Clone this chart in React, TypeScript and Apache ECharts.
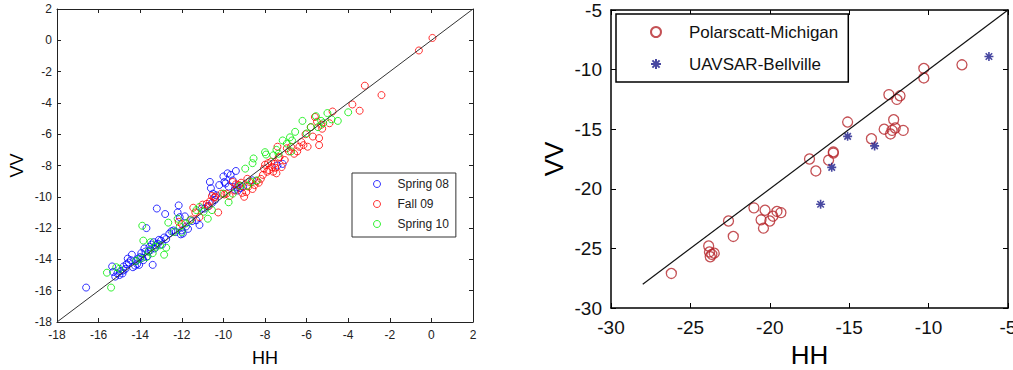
import React, { useEffect, useRef } from "react";
import * as echarts from "echarts";

// ---------- Left panel data (HH, VV) ----------
const spring08: number[][] = [
  [-16.6, -15.8], [-15.35, -14.45], [-15.3, -14.8], [-15.2, -15.1], [-15.1, -14.9], [-15.0, -15.0],
  [-14.95, -14.75], [-14.85, -14.9], [-14.8, -14.7], [-14.8, -14.45], [-14.7, -14.6], [-14.65, -14.3],
  [-14.6, -13.95], [-14.55, -14.2], [-14.45, -14.05], [-14.4, -13.7], [-14.35, -14.5], [-14.25, -14.4],
  [-14.2, -14.1], [-14.15, -14.3], [-14.1, -13.95], [-14.05, -14.35], [-14.0, -13.85], [-13.95, -13.6],
  [-13.9, -13.9], [-13.85, -14.05], [-13.8, -13.3], [-13.75, -13.5], [-13.7, -12.0], [-13.65, -13.8],
  [-13.6, -13.5], [-13.55, -13.2], [-13.5, -13.4], [-13.45, -13.05], [-13.4, -14.35], [-13.35, -12.9],
  [-13.3, -13.3], [-13.25, -13.1], [-13.2, -10.75], [-13.15, -13.0], [-13.1, -12.75], [-13.0, -12.8],
  [-12.95, -13.05], [-12.85, -12.6], [-12.8, -11.1], [-12.75, -12.7], [-12.6, -12.35], [-12.5, -12.2],
  [-12.4, -12.15], [-12.3, -12.25], [-12.2, -11.0], [-12.15, -10.55], [-12.1, -11.3], [-12.05, -12.4],
  [-12.0, -12.15], [-11.95, -12.35], [-11.85, -11.25], [-11.8, -11.9], [-11.7, -12.05], [-11.5, -11.55],
  [-11.3, -11.5], [-11.15, -11.8], [-11.05, -10.75], [-10.9, -10.75], [-10.75, -10.6], [-10.65, -9.05],
  [-10.6, -9.45], [-10.55, -10.4], [-10.5, -9.8], [-10.4, -10.2], [-10.35, -9.9], [-10.2, -9.25],
  [-10.0, -8.7], [-9.95, -9.05], [-9.9, -9.15], [-9.8, -8.5], [-9.75, -9.35], [-9.65, -8.6],
  [-9.55, -8.95], [-9.45, -9.55], [-9.4, -8.35], [-9.35, -9.4], [-9.3, -9.6], [-9.2, -9.45],
  [-9.05, -9.35], [-8.6, -8.95], [-7.4, -8.0], [-7.15, -7.9],
];

const fall09: number[][] = [
  [-12.15, -11.6], [-12.0, -11.75], [-11.55, -11.45], [-11.45, -10.7], [-11.35, -11.0], [-11.15, -11.3],
  [-11.0, -10.5], [-10.8, -10.45], [-10.7, -10.6], [-10.65, -10.3], [-10.55, -9.95], [-10.45, -10.05],
  [-10.4, -10.0], [-10.25, -11.0], [-10.1, -9.8], [-9.95, -9.85], [-9.85, -9.8], [-9.7, -9.95],
  [-9.55, -9.05], [-9.45, -9.6], [-9.4, -9.2], [-9.25, -9.25], [-9.15, -9.1], [-9.1, -9.75],
  [-9.0, -10.0], [-8.9, -9.7], [-8.85, -8.85], [-8.8, -9.35], [-8.75, -9.05], [-8.6, -9.5],
  [-8.5, -9.25], [-8.4, -9.0], [-8.3, -9.1], [-8.2, -8.85], [-8.1, -8.6], [-8.05, -8.2],
  [-8.0, -7.95], [-7.9, -8.4], [-7.85, -7.85], [-7.8, -8.3], [-7.7, -7.75], [-7.65, -8.1],
  [-7.6, -8.4], [-7.55, -7.9], [-7.5, -8.15], [-7.45, -8.5], [-7.4, -6.8], [-7.35, -7.5],
  [-7.3, -7.45], [-7.2, -8.1], [-7.05, -7.65], [-6.95, -6.9], [-6.85, -7.1], [-6.75, -6.8],
  [-6.6, -7.25], [-6.45, -7.1], [-6.35, -6.8], [-6.25, -6.5], [-6.15, -6.7], [-6.05, -6.0],
  [-5.95, -6.8], [-5.8, -5.55], [-5.7, -6.15], [-5.6, -4.9], [-5.5, -5.2], [-5.4, -6.25],
  [-5.4, -6.7], [-5.3, -5.4], [-5.25, -5.65], [-4.9, -5.3], [-4.75, -4.55], [-3.8, -4.1],
  [-3.45, -4.5], [-3.2, -2.9], [-2.4, -3.5], [-0.6, -0.65], [0.05, 0.15],
];

const spring10: number[][] = [
  [-15.6, -14.85], [-15.4, -15.8], [-15.15, -14.5], [-15.0, -14.6], [-14.2, -14.1], [-14.0, -13.95],
  [-13.9, -11.85], [-13.85, -12.8], [-13.7, -13.85], [-13.6, -13.5], [-13.5, -12.9], [-13.4, -13.6],
  [-13.25, -13.2], [-13.05, -13.1], [-12.85, -13.7], [-12.75, -13.25], [-12.65, -11.65], [-12.4, -12.25],
  [-12.2, -11.4], [-12.1, -11.9], [-12.0, -12.25], [-11.8, -11.7], [-11.6, -11.5], [-11.3, -10.85],
  [-11.15, -10.65], [-10.95, -10.95], [-10.75, -11.4], [-10.55, -10.85], [-10.0, -9.8], [-9.75, -10.35],
  [-9.55, -9.8], [-9.2, -9.3], [-8.95, -8.2], [-8.85, -9.3], [-8.65, -9.05], [-8.6, -7.85],
  [-8.55, -7.55], [-8.4, -8.95], [-8.0, -7.15], [-7.95, -7.3], [-7.6, -7.35], [-7.45, -7.0],
  [-7.35, -7.25], [-7.15, -6.4], [-6.95, -6.6], [-6.8, -6.2], [-6.75, -7.1], [-6.7, -6.4],
  [-6.55, -5.85], [-6.2, -5.15], [-6.0, -5.95], [-5.8, -5.55], [-5.55, -4.85], [-5.45, -5.55],
  [-5.3, -5.15], [-5.2, -5.3], [-5.0, -4.65], [-4.8, -5.05], [-4.5, -5.15], [-4.0, -4.6],
];

const leftLine: number[][] = [[-18, -18], [2, 2]];

// ---------- Right panel data (HH, VV) ----------
const polarscatt: number[][] = [
  [-7.9, -9.6], [-10.3, -9.9], [-10.3, -10.7], [-12.5, -12.1], [-12.0, -12.5], [-11.8, -12.2],
  [-12.2, -14.2], [-12.8, -15.0], [-12.3, -15.1], [-12.4, -15.4], [-11.6, -15.1], [-12.1, -14.9],
  [-15.1, -14.4], [-13.6, -15.8], [-16.0, -16.9], [-16.0, -17.0], [-16.3, -17.6], [-17.5, -17.5],
  [-17.1, -18.5], [-21.0, -21.6], [-20.3, -21.8], [-20.55, -22.6], [-20.0, -22.7], [-20.4, -23.3],
  [-19.55, -21.9], [-19.3, -22.0], [-19.8, -22.3], [-22.6, -22.7], [-22.3, -24.0], [-23.85, -24.8],
  [-23.8, -25.3], [-23.65, -25.5], [-23.5, -25.4], [-23.75, -25.7], [-26.2, -27.1],
];

const uavsar: number[][] = [
  [-6.2, -8.9], [-15.1, -15.6], [-13.4, -16.4], [-16.1, -18.2], [-16.8, -21.3],
];

const rightLine: number[][] = [[-28, -28], [-5, -5]];

const leftTicks = { min: -18, max: 2, interval: 2 };
const rightTicks = { min: -30, max: -5, interval: 5 };

const FONT = "Liberation Sans, Arial, Helvetica, sans-serif";
const ASTERISK = "path://M0,-5L0,5M-5,0L5,0M-3.6,-3.6L3.6,3.6M-3.6,3.6L3.6,-3.6";

function axisPair(
  kind: "x" | "y",
  grid: number,
  ticks: { min: number; max: number; interval: number },
  opts: { name: string; nameSize: number; nameGap: number; labelSize: number; labelMargin: number; tickLen: number; lineColor: string; lineWidth: number; labelColor: string }
) {
  const common = {
    type: "value",
    gridIndex: grid,
    min: ticks.min,
    max: ticks.max,
    interval: ticks.interval,
    splitLine: { show: false },
    axisLine: { show: true, onZero: false, lineStyle: { color: opts.lineColor, width: opts.lineWidth } },
    axisTick: { show: true, inside: true, length: opts.tickLen, lineStyle: { color: opts.lineColor, width: 1 } },
  };
  const main = {
    ...common,
    position: kind === "x" ? "bottom" : "left",
    name: opts.name,
    nameLocation: "middle",
    nameGap: opts.nameGap,
    nameTextStyle: { fontSize: opts.nameSize, color: "#000", fontFamily: FONT },
    axisLabel: {
      show: true,
      fontSize: opts.labelSize,
      color: opts.labelColor,
      margin: opts.labelMargin,
      fontFamily: FONT,
      showMinLabel: true,
      showMaxLabel: true,
      hideOverlap: false,
    },
  };
  const mirror = {
    ...common,
    position: kind === "x" ? "top" : "right",
    axisLabel: { show: false },
  };
  return [main, mirror];
}

export default function App() {
  const ref = useRef<HTMLDivElement>(null);
  useEffect(() => {
    document.body.style.margin = "0";
    if (!ref.current) return;
    const chart = echarts.init(ref.current, undefined, { renderer: "svg" });

    const leftStyle = { nameSize: 18, labelSize: 12, labelMargin: 6, tickLen: 4, lineColor: "#222", lineWidth: 1, labelColor: "#222" };
    const rightStyle = { nameSize: 26, labelSize: 19, tickLen: 5, lineColor: "#000", lineWidth: 1.5, labelColor: "#111" };

    const xAxes = [
      ...axisPair("x", 0, leftTicks, { ...leftStyle, name: "HH", nameGap: 27, labelMargin: 7 }),
      ...axisPair("x", 1, rightTicks, { ...rightStyle, name: "HH", nameGap: 29, labelMargin: 10 }),
    ];
    const yAxes = [
      ...axisPair("y", 0, leftTicks, { ...leftStyle, name: "VV", nameGap: 31, labelMargin: 5 }),
      ...axisPair("y", 1, rightTicks, { ...rightStyle, name: "VV", nameGap: 44, labelMargin: 9 }),
    ];

    const hollow = (color: string, size: number, width: number, data: number[][], name: string, xi: number, yi: number) => ({
      name,
      type: "scatter",
      xAxisIndex: xi,
      yAxisIndex: yi,
      symbol: "circle",
      symbolSize: size,
      itemStyle: { color: "rgba(0,0,0,0)", borderColor: color, borderWidth: width },
      data,
    });

    chart.setOption({
      animation: false,
      backgroundColor: "#fff",
      grid: [
        { left: 57, top: 9, width: 416, height: 313, outerBoundsMode: "none" },
        { left: 611, top: 10, width: 397, height: 298, outerBoundsMode: "none" },
      ],
      xAxis: xAxes,
      yAxis: yAxes,
      legend: [
        {
          orient: "vertical",
          left: 352,
          top: 173,
          data: ["Spring 08", "Fall 09", "Spring 10"],
          itemWidth: 7,
          itemHeight: 7,
          itemGap: 6,
          padding: [4, 7, 6, 21],
          borderColor: "#333",
          borderWidth: 1,
          borderRadius: 0,
          backgroundColor: "#fff",
          itemStyle: { borderWidth: 1 },
          textStyle: { fontSize: 12, lineHeight: 14, color: "#222", fontFamily: FONT, padding: [0, 0, 0, 12] },
        },
        {
          orient: "vertical",
          left: 616,
          top: 14,
          data: ["Polarscatt-Michigan", "UAVSAR-Bellville"],
          itemWidth: 10,
          itemHeight: 10,
          itemGap: 12,
          padding: [8, 10, 8, 34],
          borderColor: "#000",
          borderWidth: 1.5,
          borderRadius: 0,
          backgroundColor: "#fff",
          textStyle: { fontSize: 17, lineHeight: 20, color: "#111", fontFamily: FONT, padding: [0, 0, 0, 23] },
        },
      ],
      series: [
        {
          type: "line",
          xAxisIndex: 0,
          yAxisIndex: 0,
          data: leftLine,
          symbol: "none",
          lineStyle: { color: "#333", width: 1 },
          silent: true,
        },
        hollow("#0000ff", 7, 1, spring08, "Spring 08", 0, 0),
        hollow("#ff0000", 7, 1, fall09, "Fall 09", 0, 0),
        hollow("#00ee00", 7, 1, spring10, "Spring 10", 0, 0),
        {
          type: "line",
          xAxisIndex: 2,
          yAxisIndex: 2,
          data: rightLine,
          symbol: "none",
          lineStyle: { color: "#111", width: 1.2 },
          silent: true,
        },
        hollow("#b5262b", 10, 1.3, polarscatt, "Polarscatt-Michigan", 2, 2),
        {
          name: "UAVSAR-Bellville",
          type: "scatter",
          xAxisIndex: 2,
          yAxisIndex: 2,
          symbol: ASTERISK,
          symbolSize: 9,
          itemStyle: { color: "rgba(0,0,0,0)", borderColor: "#1a1a8a", borderWidth: 1.6 },
          data: uavsar,
        },
      ],
    });
    return () => chart.dispose();
  }, []);
  return <div ref={ref} style={{ width: 1013, height: 370 }} />;
}
